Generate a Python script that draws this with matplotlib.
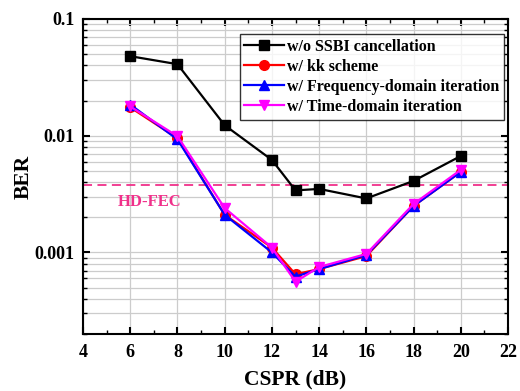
import matplotlib
matplotlib.use("Agg")
import matplotlib.pyplot as plt
from matplotlib.ticker import FixedLocator, LogLocator, NullFormatter, FixedFormatter

plt.rcParams['font.family'] = ['Liberation Serif', 'DejaVu Serif']
plt.rcParams['font.weight'] = 'bold'

cspr = [6, 8, 10, 12, 13, 14, 16, 18, 20]
ber_wo = [0.048, 0.041, 0.0123, 0.0062, 0.0034, 0.0035, 0.0029, 0.0041, 0.0067]
ber_kk = [0.0175, 0.0095, 0.0021, 0.0011, 0.00065, 0.00072, 0.00093, 0.0025, 0.0049]
ber_fd = [0.0185, 0.0093, 0.0021, 0.0010, 0.00062, 0.00072, 0.00095, 0.0025, 0.0049]
ber_td = [0.0178, 0.0099, 0.0024, 0.0011, 0.00056, 0.00075, 0.00097, 0.0026, 0.0051]
hd_fec = 0.0038
labels = ['w/o SSBI cancellation', 'w/ kk scheme',
          'w/ Frequency-domain iteration', 'w/ Time-domain iteration']

fig = plt.figure(figsize=(5.2, 3.91), dpi=100)
ax = fig.add_axes([83/520, 1-334/391, (508-83)/520, (334-19)/391])

ax.plot(cspr, ber_wo, color='black', marker='s', ms=7, lw=1.6, label=labels[0])
ax.plot(cspr, ber_kk, color='red', marker='o', ms=7, lw=1.6, label=labels[1])
ax.plot(cspr, ber_fd, color='blue', marker='^', ms=7, lw=1.6, label=labels[2])
ax.plot(cspr, ber_td, color='magenta', marker='v', ms=7, lw=1.6, label=labels[3])
ax.axhline(hd_fec, color='#F0308A', ls=(0, (5, 3)), lw=1.3, zorder=1)
ax.text(5.48, 0.00269, 'HD-FEC', color='#F0308A', fontsize=12, fontweight='bold',
        va='center', ha='left')

ax.set_yscale('log')
ax.set_xlim(4, 22)
ax.set_ylim(2e-4, 0.1)
ax.set_xticks(range(4, 23, 2))
ax.xaxis.set_minor_locator(FixedLocator(range(5, 22, 2)))
ax.yaxis.set_major_locator(FixedLocator([0.001, 0.01, 0.1]))
ax.yaxis.set_major_formatter(FixedFormatter(['0.001', '0.01', '0.1']))
ax.yaxis.set_minor_locator(LogLocator(base=10, subs=range(2, 10), numticks=20))
ax.yaxis.set_minor_formatter(NullFormatter())

ax.grid(True, which='major', axis='x', color='#CCCCCC', lw=0.9)
ax.grid(True, which='both', axis='y', color='#CCCCCC', lw=0.9)
ax.set_axisbelow(True)

ax.tick_params(which='both', direction='in', top=True, right=True, labelsize=13)
ax.tick_params(axis='x', which='major', pad=7)
ax.tick_params(axis='y', which='major', pad=6)
ax.tick_params(which='major', length=5, width=1.5)
ax.tick_params(which='minor', length=3, width=1.0)
for lab in ax.get_xticklabels() + ax.get_yticklabels():
    lab.set_fontweight('bold')
for s in ax.spines.values():
    s.set_linewidth(1.5)

ax.set_xlabel('CSPR (dB)', fontsize=15.5, fontweight='bold', labelpad=6)
ax.set_ylabel('BER', fontsize=15.5, fontweight='bold', labelpad=1)

leg = ax.legend(loc='upper right', bbox_to_anchor=(0.99, 0.952), fontsize=11.5,
                frameon=True, fancybox=False, edgecolor='black',
                handlelength=2.5, handletextpad=0.15, borderpad=0.3,
                labelspacing=0.25, borderaxespad=0.0)
leg.get_frame().set_linewidth(1.0)
for t in leg.get_texts():
    t.set_fontweight('bold')

fig.savefig('out.png', dpi=100)
